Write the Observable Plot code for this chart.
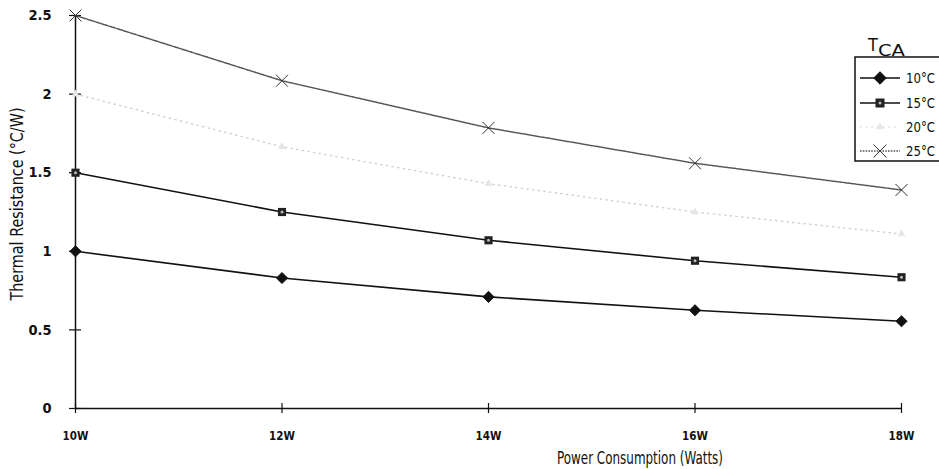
<!DOCTYPE html>
<html><head><meta charset="utf-8">
<script src="https://cdn.jsdelivr.net/npm/d3@7"></script>
<script src="https://cdn.jsdelivr.net/npm/@observablehq/plot@0.6"></script>
<style>
body{margin:0;background:#fff;}
#wrap{position:relative;width:939px;height:469px;overflow:hidden;}
#wrap svg{display:block;}
#legend{position:absolute;left:0;top:0;pointer-events:none;}
</style></head><body><div id="wrap"></div>
<script>
const FONT = "'Liberation Sans Narrow','DejaVu Sans Condensed','Roboto Condensed',sans-serif";
const powers = [10, 12, 14, 16, 18];
const powerLabels = ["10W", "12W", "14W", "16W", "18W"];
const seriesNames = ["10°C", "15°C", "20°C", "25°C"];
const r10 = [1.0, 0.83, 0.71, 0.625, 0.555];
const r15 = [1.5, 1.25, 1.07, 0.94, 0.835];
const r20 = [2.0, 1.665, 1.43, 1.25, 1.11];
const r25 = [2.5, 2.085, 1.785, 1.56, 1.39];
const yTicks = [0, 0.5, 1, 1.5, 2, 2.5];
const yTickLabels = ["0", "0.5", "1", "1.5", "2", "2.5"];
const xTitle = "Power Consumption (Watts)";
const yTitle = "Thermal Resistance (°C/W)";
const legendTitle = ["T", "CA"];

const rows = (vals) => powers.map((p, i) => ({p, v: vals[i]}));
const d10 = rows(r10), d15 = rows(r15), d20 = rows(r20), d25 = rows(r25);

const C20 = "#d2d2d2", D20 = "1.2,4.5";
const C25 = "#555", D25 = "1.6,1.2";

const chart = Plot.plot({
  width: 939, height: 469,
  marginLeft: 75, marginRight: 38, marginTop: 15, marginBottom: 61,
  style: {fontFamily: FONT, background: "#fff", color: "#111"},
  x: {domain: [10, 18], axis: null},
  y: {domain: [0, 2.5], axis: null},
  marks: [
    Plot.ruleX([10], {y1: 0, y2: 2.5, stroke: "#111", strokeWidth: 1.5}),
    Plot.ruleY([0], {x1: 10, x2: 18, stroke: "#111", strokeWidth: 1.5}),
    Plot.ruleY(yTicks, {y: d => d, x1: 10, x2: 10, insetLeft: -6, insetRight: -6, stroke: "#111", strokeWidth: 1.2}),
    Plot.ruleX(powers, {x: d => d, y1: 0, y2: 0, insetTop: -5, insetBottom: -5, stroke: "#111", strokeWidth: 1.2}),
    Plot.text(yTicks, {x: 10, y: d => d, text: (d, i) => yTickLabels[i], dx: -24, textAnchor: "end", fontWeight: "bold", fontSize: 14.5, fill: "#111"}),
    Plot.text(powers, {x: d => d, y: 0, text: (d, i) => powerLabels[i], dy: 28, fontWeight: "bold", fontSize: 11.5, fill: "#111"}),
    Plot.line(d20, {x: "p", y: "v", stroke: C20, strokeWidth: 1.5, strokeDasharray: D20}),
    Plot.line(d25, {x: "p", y: "v", stroke: C25, strokeWidth: 1.5, strokeDasharray: D25}),
    Plot.line(d15, {x: "p", y: "v", stroke: "#111", strokeWidth: 1.6}),
    Plot.line(d10, {x: "p", y: "v", stroke: "#111", strokeWidth: 1.6}),
    Plot.dot(d10, {x: "p", y: "v", symbol: "diamond2", r: 5, fill: "#111", stroke: "#111", strokeWidth: 1}),
    Plot.dot(d15, {x: "p", y: "v", symbol: "square", r: 4.6, fill: "#222", stroke: "none"}),
    Plot.dot(d15, {x: "p", y: "v", r: 1.5, fill: "#bbb", stroke: "none"}),
    Plot.dot(d20, {x: "p", y: "v", symbol: "triangle", r: 3, fill: "#e6e6e6", stroke: "none"}),
    Plot.dot(d25, {x: "p", y: "v", symbol: "times", r: 5.5, stroke: "#333", strokeWidth: 1})
  ]
});
const wrap = document.getElementById("wrap");
wrap.appendChild(chart);

// Overlay: axis titles and legend
const svg = d3.select(wrap).append("svg").attr("id", "legend").attr("width", 939).attr("height", 469)
  .style("font-family", FONT);
svg.append("text").attr("transform", "translate(23,204) rotate(-90)").attr("text-anchor", "middle")
  .attr("font-size", 17.5).attr("fill", "#111").attr("textLength", 193).attr("lengthAdjust", "spacingAndGlyphs").text(yTitle);
svg.append("text").attr("x", 640).attr("y", 464).attr("text-anchor", "middle")
  .attr("font-size", 17.5).attr("fill", "#111").attr("textLength", 166).attr("lengthAdjust", "spacingAndGlyphs").text(xTitle);

svg.append("path").attr("d", "M945,57 H855 V161 H945").attr("fill", "none").attr("stroke", "#111").attr("stroke-width", 1.5);
const title = svg.append("text").attr("x", 868).attr("y", 51).attr("fill", "#111").attr("font-size", 18);
title.append("tspan").text(legendTitle[0]);
title.append("tspan").attr("dy", 5).attr("font-size", 16).attr("textLength", 27).attr("lengthAdjust", "spacingAndGlyphs").text(legendTitle[1]);
const legYs = [78, 103, 127, 151];
const styles = [
  {stroke: "#111", dash: null, sw: 1.6},
  {stroke: "#111", dash: null, sw: 1.6},
  {stroke: C20, dash: D20, sw: 1.5},
  {stroke: C25, dash: D25, sw: 1.5}
];
seriesNames.forEach((name, i) => {
  const y = legYs[i], st = styles[i];
  const ln = svg.append("line").attr("x1", 860).attr("x2", 900).attr("y1", y).attr("y2", y)
    .attr("stroke", st.stroke).attr("stroke-width", st.sw);
  if (st.dash) ln.attr("stroke-dasharray", st.dash);
  const cx = 880;
  if (i === 0) svg.append("path").attr("d", d3.symbol(d3.symbolDiamond2, 100)()).attr("transform", `translate(${cx},${y})`).attr("fill", "#111").attr("stroke", "#111");
  if (i === 1) {
    svg.append("rect").attr("x", cx - 4.5).attr("y", y - 4.5).attr("width", 9).attr("height", 9).attr("fill", "#222");
    svg.append("circle").attr("cx", cx).attr("cy", y).attr("r", 1.5).attr("fill", "#bbb");
  }
  if (i === 2) svg.append("path").attr("d", d3.symbol(d3.symbolTriangle, 25)()).attr("transform", `translate(${cx},${y})`).attr("fill", "#e6e6e6");
  if (i === 3) svg.append("path").attr("d", d3.symbol(d3.symbolTimes, 110)()).attr("transform", `translate(${cx},${y})`).attr("fill", "none").attr("stroke", "#333").attr("stroke-width", 1);
  svg.append("text").attr("x", 906).attr("y", y).attr("dy", "0.35em").attr("font-size", 14).attr("fill", "#111")
    .attr("textLength", 29).attr("lengthAdjust", "spacingAndGlyphs").text(name);
});
</script>
</body></html>
